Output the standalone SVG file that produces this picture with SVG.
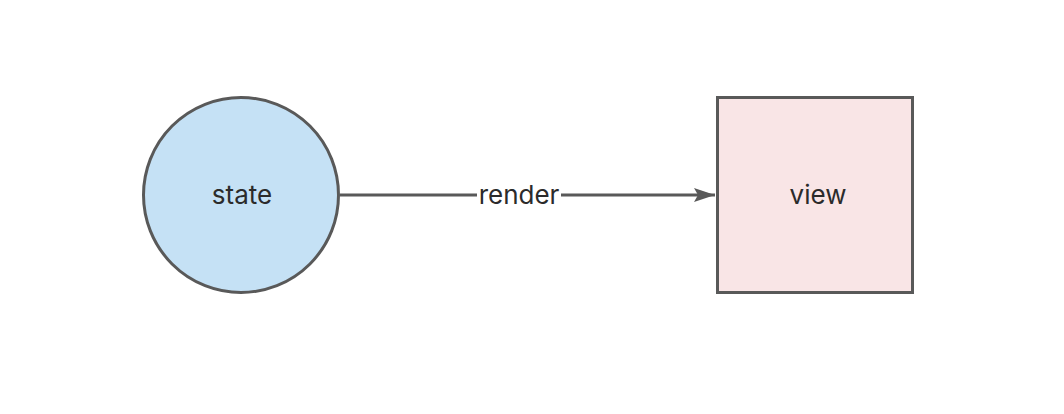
<svg xmlns="http://www.w3.org/2000/svg" width="1064" height="414" viewBox="0 0 1064 414">
<style>
.t{font-family:Inter,"Open Sans","Liberation Sans",sans-serif;font-size:26px;fill:#2b2b2b;text-anchor:middle}
.s{stroke:#595959;stroke-width:3}
</style>
<defs>
<marker id="ah" markerUnits="userSpaceOnUse" markerWidth="22" markerHeight="16" refX="21" refY="8" orient="auto">
<path d="M0,1 L21,8 L0,15 L4,8 Z" fill="#595959"/>
</marker>
</defs>
<rect width="1064" height="414" fill="#ffffff"/>
<g id="connectors">
<line class="s" x1="340" y1="195" x2="715" y2="195" marker-end="url(#ah)"/>
<rect x="477" y="183" width="84" height="24" fill="#ffffff"/>
<text class="t" x="519" y="204">render</text>
</g>
<g id="state">
<circle class="s" cx="241" cy="195" r="97.5" fill="#c5e1f5"/>
<text class="t" x="242" y="204">state</text>
</g>
<g id="view">
<rect class="s" x="717.5" y="97.5" width="195" height="195" fill="#f9e5e6"/>
<text class="t" x="818" y="204">view</text>
</g>
</svg>
